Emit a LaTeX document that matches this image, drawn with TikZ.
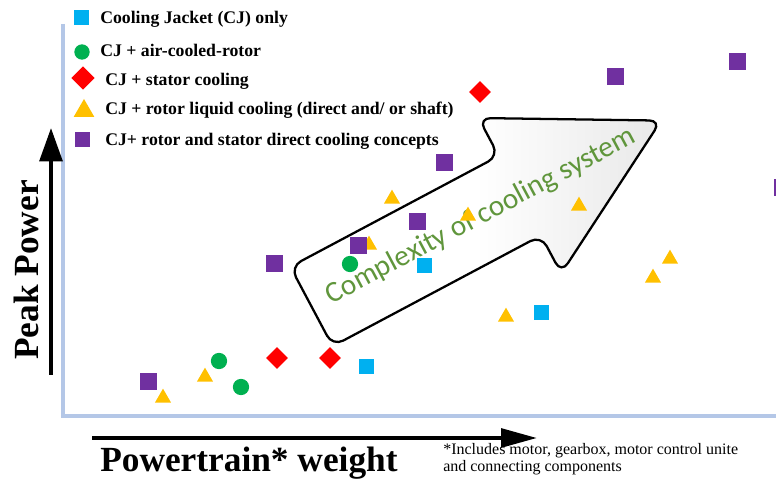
\documentclass[tikz,border=0pt]{standalone}
\usepackage{fontspec}
\setmainfont{Liberation Serif}
\newfontfamily\calibrifont{Carlito}
\usetikzlibrary{shapes.geometric,arrows.meta}

\definecolor{cjblue}{RGB}{0,176,240}
\definecolor{cjgreen}{RGB}{0,176,80}
\definecolor{cjred}{RGB}{255,0,0}
\definecolor{cjorange}{RGB}{255,192,0}
\definecolor{cjpurple}{RGB}{112,48,160}
\definecolor{framebl}{RGB}{180,199,231}
\definecolor{txtgreen}{RGB}{96,150,60}

\tikzset{
  cjonly/.style={rectangle,fill=cjblue,minimum size=11.25pt},
  aircool/.style={circle,fill=cjgreen,minimum size=12.2pt},
  statcool/.style={diamond,fill=cjred,minimum size=16.5pt},
  rotliq/.style={regular polygon,regular polygon sides=3,fill=cjorange,minimum size=14pt},
  rotstat/.style={rectangle,fill=cjpurple,minimum size=12.75pt},
  legtext/.style={anchor=base west,font=\bfseries\fontsize{13.3}{15}\selectfont},
  axistext/.style={anchor=base west,font=\bfseries\fontsize{26.5}{30}\selectfont},
  notetext/.style={anchor=base west,font=\fontsize{12}{13}\selectfont},
}

\begin{document}
\begin{tikzpicture}[x=0.75pt,y=0.75pt]
    \tikzstyle{every node}+=[inner sep=0pt]
    \useasboundingbox (0,0) rectangle (776,-481);
    \clip (0,0) rectangle (776,-481);
    % frame and axes
    \draw [framebl, line width=3pt] (63,-24) -- (63,-416) -- (780,-416);
    \coordinate (ybot) at (51,-375);
    \coordinate (ytop) at (51,-128);
    \coordinate (xleft) at (92,-438);
    \coordinate (xright) at (537,-438);
    \draw [line width=3pt, -{Triangle[length=25pt,width=17pt]}] (ybot) -- (ytop);
    \draw [line width=3pt, -{Triangle[length=27pt,width=14pt]}] (xleft) -- (xright);
    \node [axistext, rotate=90] (ylabel) at (38,-360) {Peak Power};
    \node [axistext] (xlabel) at (100,-472) {Powertrain* weight};
    \node [notetext] (note1) at (443,-455) {*Includes motor, gearbox, motor control unite};
    \node [notetext] (note2) at (443,-471) {and connecting components};
    % big arrow
    \begin{scope}[shift={(311.5,-306.5)}, rotate=28]
      \draw [line width=1.7pt, rounded corners=9pt, left color=white, right color=black!9, middle color=white]
        (0,45) -- (236,45) -- (236,88) -- (396,0) -- (236,-88) -- (236,-45) -- (0,-45) -- cycle;
      \node [rotate=28, text=txtgreen, font=\calibrifont\fontsize{22}{25}\selectfont] (cplx) at (192,0) {Complexity of cooling system};
    \end{scope}
    % legend
    \node [cjonly] (lg1) at (81,-18) {};
    \node [legtext] (lt1) at (100,-24) {Cooling Jacket (CJ) only};
    \node [aircool, minimum size=11.5pt] (lg2) at (82,-52) {};
    \node [legtext] (lt2) at (100,-57) {CJ + air-cooled-rotor};
    \node [statcool, minimum size=17.5pt] (lg3) at (83,-78) {};
    \node [legtext] (lt3) at (105,-86) {CJ + stator cooling};
    \node [rotliq, minimum size=18pt] (lg4) at (84,-111) {};
    \node [legtext] (lt4) at (105,-115) {CJ + rotor liquid cooling (direct and/ or shaft)};
    \node [rotstat, minimum size=11.25pt] (lg5) at (82,-140) {};
    \node [legtext] (lt5) at (105,-146) {CJ+ rotor and stator direct cooling concepts};
    % data points
    \node [rotliq] (rl1) at (163,-398) {};
    \node [rotliq] (rl2) at (205,-377) {};
    \node [rotliq] (rl3) at (369,-245) {};
    \node [rotliq] (rl4) at (392,-199) {};
    \node [rotliq] (rl5) at (468,-216) {};
    \node [rotliq] (rl6) at (579,-206) {};
    \node [rotliq] (rl7) at (506,-317) {};
    \node [rotliq] (rl8) at (653,-278) {};
    \node [rotliq] (rl9) at (670,-259) {};
    \node [cjonly] (cj1) at (366,-367) {};
    \node [cjonly] (cj2) at (424,-266) {};
    \node [cjonly] (cj3) at (541,-313) {};
    \node [aircool] (ac1) at (219,-361) {};
    \node [aircool] (ac2) at (241,-387) {};
    \node [aircool] (ac3) at (350,-264) {};
    \node [statcool] (sc1) at (277,-358) {};
    \node [statcool] (sc2) at (330,-358) {};
    \node [statcool] (sc3) at (480,-92) {};
    \node [rotstat] (rs1) at (148,-382) {};
    \node [rotstat] (rs2) at (274,-264) {};
    \node [rotstat] (rs3) at (358,-246) {};
    \node [rotstat] (rs4) at (417,-222) {};
    \node [rotstat] (rs5) at (444,-163) {};
    \node [rotstat] (rs6) at (615,-77) {};
    \node [rotstat] (rs7) at (737,-62) {};
    \node [rotstat] (rs8) at (782,-188) {};
\end{tikzpicture}
\end{document}
